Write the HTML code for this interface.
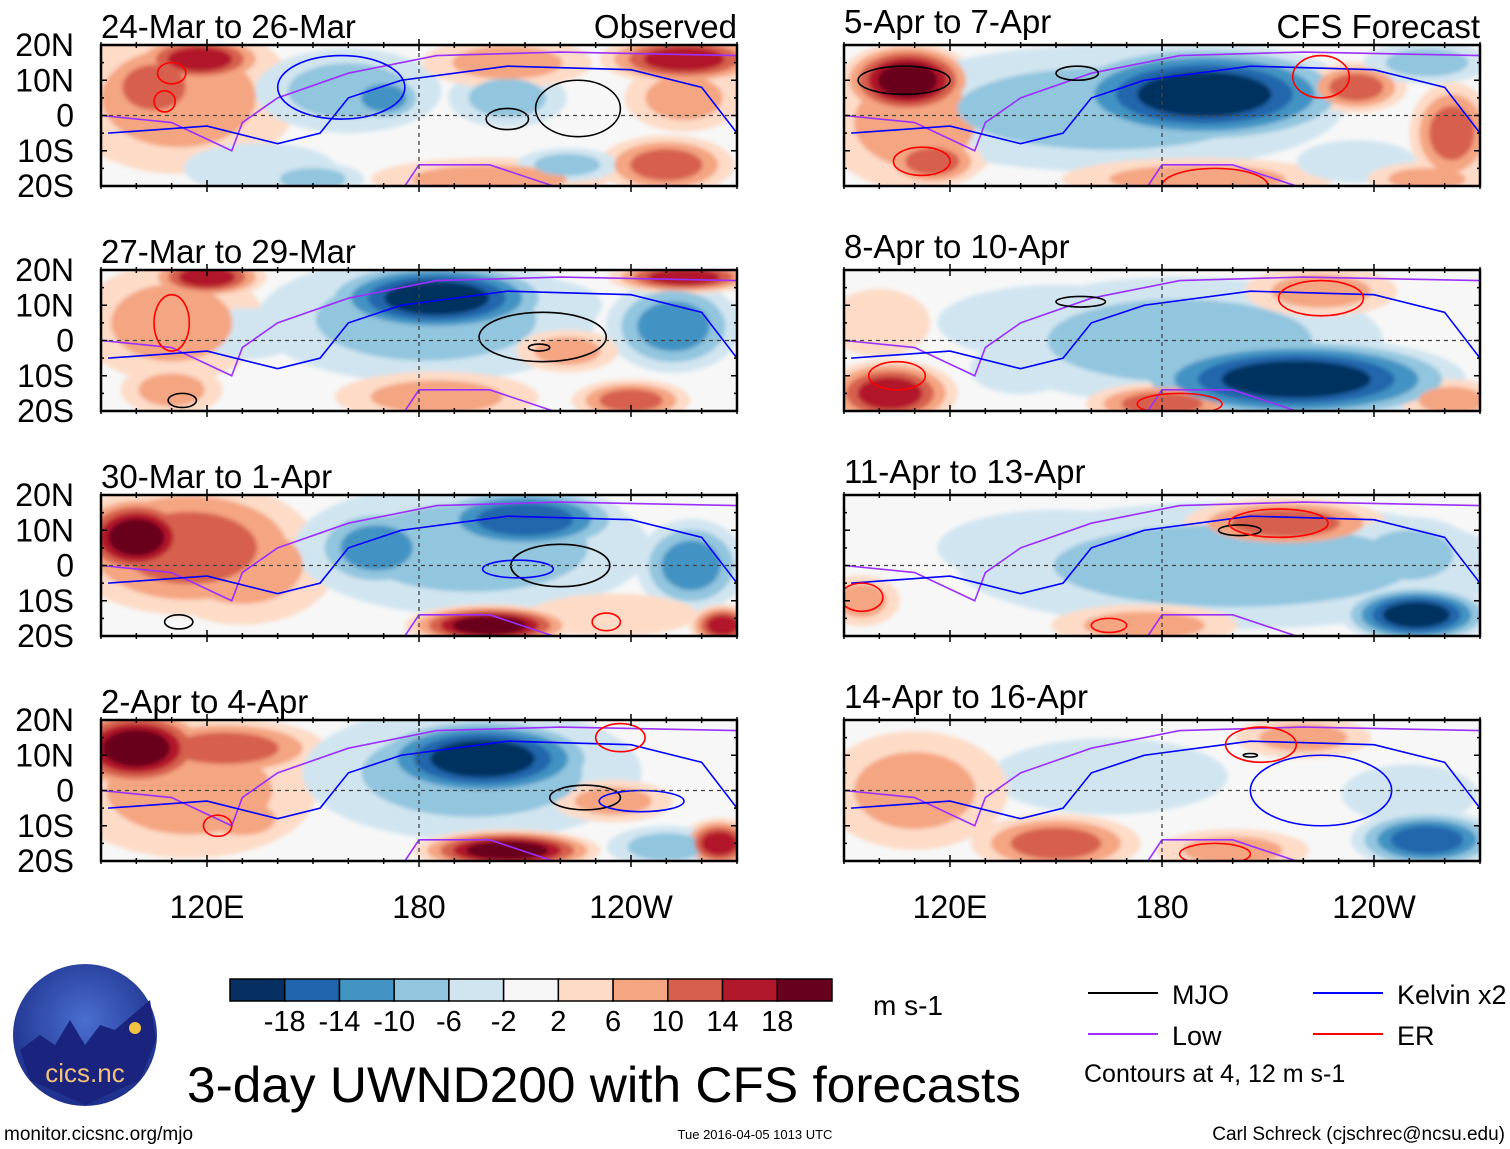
<!DOCTYPE html>
<html><head><meta charset="utf-8"><style>
body{margin:0;background:#fff;}
svg{display:block;font-family:"Liberation Sans",sans-serif;}
</style></head><body>
<svg id="chart" width="1510" height="1149" viewBox="0 0 1510 1149" xmlns="http://www.w3.org/2000/svg">
<defs>
<filter id="soft" x="-5%" y="-5%" width="110%" height="110%"><feGaussianBlur stdDeviation="2"/></filter>
<radialGradient id="logoGrad" cx="50%" cy="40%" r="60%"><stop offset="0" stop-color="#4a6fd0"/><stop offset="1" stop-color="#1d2f8a"/></radialGradient>
</defs>
<g id="panels"></g>
<g id="legend"></g>
</svg>
<script>
// colour levels (boundaries -18..18 step 4)
const levelColors = ["#053061","#2166ac","#4393c3","#92c5de","#d1e5f0","#f7f7f7","#fddbc7","#f4a582","#d6604d","#b2182b","#67001f"];
const levelLabels = ["-18","-14","-10","-6","-2","2","6","10","14","18"];
const xTickLabels = ["120E","180","120W"];
const xTickLons = [120,180,240];
const yTickLabels = ["20N","10N","0","10S","20S"];
const yTickLats = [20,10,0,-10,-20];
const panelTitles = ["24-Mar to 26-Mar","5-Apr to 7-Apr","27-Mar to 29-Mar","8-Apr to 10-Apr","30-Mar to 1-Apr","11-Apr to 13-Apr","2-Apr to 4-Apr","14-Apr to 16-Apr"];
// anomaly blobs per panel: [lon, lat, rxDeg, ryDeg, peakLevel]
const blobs0 = [[112,5,28,18,2],[118,16,16,6,4],[105,8,14,10,3],[160,7,22,10,-2],[170,5,10,6,-3],[205,5,14,7,-2],[255,16,20,6,4],[250,-14,16,7,3],[200,-18,28,5,2],[222,-14,12,4,-2],[135,-15,18,6,-1],[255,5,14,8,2],[205,15,20,6,2],[150,-18,12,4,-2]];
const blobs1 = [[108,10,16,9,5],[110,-2,22,16,2],[192,6,36,12,-5],[165,2,55,15,-2],[140,5,22,6,-1],[190,-18,32,5,2],[115,-13,12,6,3],[262,-5,10,12,3],[235,8,12,6,3],[255,15,15,5,-2],[235,-13,14,5,-1],[255,-18,14,4,2]];
const blobs2 = [[120,18,14,5,4],[110,5,22,14,2],[185,12,28,9,-5],[182,6,40,15,-2],[252,4,16,11,-3],[132,2,12,6,-1],[185,-16,24,6,2],[240,-17,14,5,3],[255,18,18,4,4],[222,-3,12,5,2],[215,10,14,6,-1],[110,-14,12,6,2]];
const blobs3 = [[218,-11,40,10,-5],[185,0,48,15,-2],[150,5,28,9,-1],[103,-15,16,8,4],[225,14,18,6,2],[180,-18,18,5,3],[262,-17,12,5,2],[140,-8,12,6,-1],[100,5,12,8,1]];
const blobs4 = [[100,8,15,10,5],[115,5,30,16,3],[130,0,22,14,2],[168,5,16,10,-3],[210,13,24,8,-4],[195,5,42,16,-2],[257,0,13,11,-3],[200,-17,20,5,5],[266,-17,8,5,4],[235,-14,20,5,1]];
const blobs5 = [[252,-14,18,7,-5],[200,0,65,15,-2],[215,12,24,6,3],[95,-10,9,6,2],[175,-17,22,5,2],[150,5,28,9,-1],[250,3,16,9,-2]];
const blobs6 = [[100,12,18,10,5],[125,12,24,7,3],[115,0,30,16,2],[198,9,28,10,-5],[195,5,40,16,-2],[205,-17,22,5,5],[265,-15,9,6,4],[250,-16,14,5,-2],[130,-8,12,6,2],[235,-3,14,5,2]];
const blobs7 = [[255,-14,18,7,-4],[165,4,28,9,-1],[150,-15,20,7,3],[110,0,22,14,2],[220,15,16,5,2],[250,-1,16,7,-1],[200,-17,18,5,2]];
const panelBlobs = [blobs0,blobs1,blobs2,blobs3,blobs4,blobs5,blobs6,blobs7];
// contour ellipses: [type, lon, lat, rxDeg, ryDeg]
const rings0 = [[ 'mjo',205,-1,6,3],[ 'mjo',225,2,12,8],[ 'er',110,12,4,3],[ 'er',108,4,3,3],[ 'kelvin',158,8,18,9]];
const rings1 = [[ 'mjo',107,10,13,4],[ 'mjo',156,12,6,2],[ 'er',225,11,8,6],[ 'er',112,-13,8,4],[ 'er',195,-20,15,5]];
const rings2 = [[ 'mjo',215,1,18,7],[ 'mjo',214,-2,3,1],[ 'er',110,5,5,8],[ 'mjo',113,-17,4,2]];
const rings3 = [[ 'mjo',157,11,7,1.5],[ 'er',225,12,12,5],[ 'er',105,-10,8,4],[ 'er',185,-18,12,3]];
const rings4 = [[ 'mjo',220,0,14,6],[ 'kelvin',208,-1,10,2.5],[ 'er',233,-16,4,2.5],[ 'mjo',112,-16,4,2]];
const rings5 = [[ 'mjo',202,10,6,1.5],[ 'er',213,12,14,4],[ 'er',95,-9,6,4],[ 'er',165,-17,5,2]];
const rings6 = [[ 'mjo',227,-2,10,3.5],[ 'er',237,15,7,4],[ 'er',123,-10,4,3],[ 'kelvin',243,-3,12,3]];
const rings7 = [[ 'er',208,13,10,5],[ 'mjo',205,10,2,0.5],[ 'kelvin',225,0,20,10],[ 'er',195,-18,10,3]];
const panelRings = [rings0,rings1,rings2,rings3,rings4,rings5,rings6,rings7];
// common Low (purple) track and Kelvin (blue) band polylines: [lon,lat]
const lowTrack = [[90,0],[110,-2],[127,-10],[130,-2],[140,5],[160,12],[185,17],[220,18],[270,17]];
const lowSouth = [[176,-20],[180,-14],[200,-14],[218,-20]];
const kelvinTrack = [[92,-5],[120,-3],[140,-8],[152,-5],[160,5],[175,10],[205,14],[240,13],[260,8],[270,-5]];

const C = document.getElementById('panels');
const NS = 'http://www.w3.org/2000/svg';
function mk(tag, attrs, parent){const e=document.createElementNS(NS,tag);for(const k in attrs)e.setAttribute(k,attrs[k]);parent.appendChild(e);return e;}
const colX=[101,844], rowY=[45,270,495,720], PW=636, PH=141;
const typeColor={mjo:'#000',kelvin:'#0000ff',low:'#9b30ff',er:'#ff0000'};
function colorFor(lv){return levelColors[5+lv];}

panelBlobs.forEach((bl,p)=>{
  const x0=colX[p%2], y0=rowY[Math.floor(p/2)];
  const xs=lon=>x0+(lon-90)*PW/180;
  const ys=lat=>y0+(20-lat)*PH/40;
  const sx=PW/180*1.2, sy=PH/40*1.2;
  const g=mk('g',{},C);
  
  
  mk('clipPath',{id:'clip'+p},g).appendChild(document.createElementNS(NS,'rect'));
  const cr=g.querySelector('clipPath rect');cr.setAttribute('x',x0);cr.setAttribute('y',y0);cr.setAttribute('width',PW);cr.setAttribute('height',PH);
  mk('rect',{x:x0,y:y0,width:PW,height:PH,fill:levelColors[5]},g);
  const field=mk('g',{'clip-path':'url(#clip'+p+')'},g);
  const fg=mk('g',{filter:'url(#soft)'},field);
  for(let i=1;i<=5;i++){
    bl.forEach(b=>{
      const pk=Math.abs(b[4]); if(i>pk) return;
      const s=1-(i-1)/pk*0.7;
      const lv=Math.sign(b[4])*i;
      const el=mk('ellipse',{cx:xs(b[0]),cy:ys(b[1]),rx:b[2]*sx*s,ry:b[3]*sy*s,fill:colorFor(lv)},fg);
      
      
    });
  }
  const lsx=PW/180, lsy=PH/40;
  const lg=mk('g',{fill:'none','stroke-width':1.6},field);
  const pts=a=>a.map(q=>xs(q[0])+','+ys(q[1])).join(' ');
  const low=mk('polyline',{points:pts(lowTrack),stroke:typeColor.low},lg);
  
  
  mk('polyline',{points:pts(lowSouth),stroke:typeColor.low},lg);
  const kv=mk('polyline',{points:pts(kelvinTrack),stroke:typeColor.kelvin},lg);
  
  
  panelRings[p].forEach(r=>{
    const e=mk('ellipse',{cx:xs(r[1]),cy:ys(r[2]),rx:r[3]*lsx,ry:r[4]*lsy,stroke:typeColor[r[0]]},lg);
    
    
  });
  mk('line',{x1:x0,x2:x0+PW,y1:ys(0),y2:ys(0),stroke:'#444','stroke-dasharray':'4,4','stroke-width':1.3},g);
  mk('line',{x1:xs(180),x2:xs(180),y1:y0,y2:y0+PH,stroke:'#444','stroke-dasharray':'4,4','stroke-width':1.3},g);
  mk('rect',{x:x0,y:y0,width:PW,height:PH,fill:'none',stroke:'#000','stroke-width':2.5},g);
  for(let lon=90;lon<=270;lon+=10){
    const major=xTickLons.includes(lon);
    mk('line',{x1:xs(lon),x2:xs(lon),y1:y0-(major?6:3),y2:y0+(major?6:3),stroke:'#000','stroke-width':1.5},g);
    mk('line',{x1:xs(lon),x2:xs(lon),y1:y0+PH-(major?6:3),y2:y0+PH+(major?6:3),stroke:'#000','stroke-width':1.5},g);
  }
  for(let lat=-20;lat<=20;lat+=5){
    const major=lat%10===0;
    mk('line',{x1:x0,x2:x0+(major?6:3),y1:ys(lat),y2:ys(lat),stroke:'#000','stroke-width':1.5},g);
    mk('line',{x1:x0+PW,x2:x0+PW-(major?6:3),y1:ys(lat),y2:ys(lat),stroke:'#000','stroke-width':1.5},g);
  }
  const t=mk('text',{x:x0,y:y0-7-(p%2?5:0),'font-size':33},g);
  t.textContent=panelTitles[p];
  
  
  if(p<2){
    const r=mk('text',{x:x0+PW,y:y0-7,'font-size':33,'text-anchor':'end'},g);
    r.textContent=p===0?'Observed':'CFS Forecast';
    
    
  }
  if(p%2===0){
    yTickLabels.forEach((lab,i)=>{
      const yt=mk('text',{x:74,y:ys(yTickLats[i])+11,'font-size':32,'text-anchor':'end'},g);
      yt.textContent=lab;
      
      
    });
  }
  if(p>=6){
    xTickLabels.forEach((lab,i)=>{
      const xt=mk('text',{x:xs(xTickLons[i]),y:918,'font-size':32,'text-anchor':'middle'},g);
      xt.textContent=lab;
      
      
    });
  }
});

const L=document.getElementById('legend');
const bw=(832-230)/levelColors.length;
levelColors.forEach((c,i)=>{
  const r=mk('rect',{x:230+i*bw,y:979,width:bw,height:22,fill:c,stroke:'#000','stroke-width':1.5},L);
  
  
});
levelLabels.forEach((lab,i)=>{
  const t=mk('text',{x:230+(i+1)*bw,y:1031,'font-size':29,'text-anchor':'middle'},L);
  t.textContent=lab;
  
  
});
function txt(x,y,s,str,name,anchor,len){const t=mk('text',{x:x,y:y,'font-size':s,'text-anchor':anchor||'start'},L);if(len){t.setAttribute('textLength',len);t.setAttribute('lengthAdjust','spacingAndGlyphs');}t.textContent=str;return t;}
txt(873,1015,28,'m s-1','units-label');
txt(187,1102,50,'3-day UWND200 with CFS forecasts','chart-title','start',834);
const legendItems=[['mjo','MJO',1088,993],['kelvin','Kelvin x2',1313,993],['low','Low',1088,1034],['er','ER',1313,1034]];
legendItems.forEach(it=>{
  const l=mk('line',{x1:it[2],x2:it[2]+70,y1:it[3],y2:it[3],stroke:typeColor[it[0]],'stroke-width':2},L);
  
  
  txt(it[2]+84,it[3]+11,27,it[1],'legend-entry-'+it[0]);
});
txt(1084,1082,25,'Contours at 4, 12 m s-1','contour-note');
txt(4,1140,19,'monitor.cicsnc.org/mjo','footer-url');
txt(755,1139,13,'Tue 2016-04-05 1013 UTC','footer-timestamp','middle');
txt(1505,1140,19,'Carl Schreck (cjschrec@ncsu.edu)','footer-author','end');
const lg=mk('g',{},L);


mk('ellipse',{cx:85,cy:1035,rx:72,ry:71,fill:'url(#logoGrad)'},lg);
mk('polygon',{points:'20,1050 40,1035 55,1045 70,1020 85,1045 100,1025 115,1030 150,1000 156,1040 140,1080 85,1105 30,1080',fill:'#1a237e'},lg);
mk('circle',{cx:135,cy:1028,r:6,fill:'#f5c242'},lg);
const lt=mk('text',{x:85,y:1082,'font-size':26,'text-anchor':'middle',fill:'#f2c27a'},lg);
lt.textContent='cics.nc';
</script>
</body></html>
